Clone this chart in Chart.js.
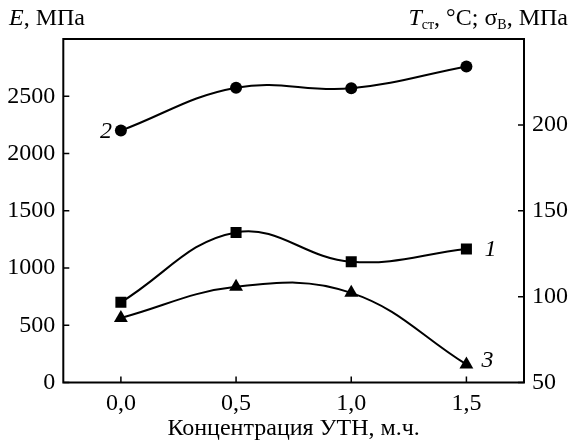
<!DOCTYPE html>
<html><head><meta charset="utf-8">
<script src="https://cdn.jsdelivr.net/npm/chart.js@4/dist/chart.umd.min.js"></script>
<style>
html,body{margin:0;padding:0;background:#fff;}
#wrap{position:relative;width:573px;height:443px;}
canvas{position:absolute;left:0;top:0;}
.t{position:absolute;font-family:"Liberation Serif","Times New Roman",serif;font-size:24px;color:#000;white-space:nowrap;line-height:1;}
.t sub{font-size:14px;vertical-align:-4px;line-height:0;}
</style></head><body>
<div id="wrap">
<canvas id="c" width="573" height="443"></canvas>
<div class="t" style="left:9px;top:5px;"><i>E</i>, МПа</div>
<div class="t" style="right:5px;top:5px;"><i>T</i><sub>ст</sub>, °C; σ<sub>В</sub>, МПа</div>
</div>
<script>
const concentrations = [0.0, 0.5, 1.0, 1.5];
const modulusE = [2200, 2575, 2570, 2760];        // curve 2, left axis
const glassTemp = [96.7, 137.4, 120.3, 127.7];    // curve 1, right axis
const strength = [87.6, 105.7, 102.2, 60.5];      // curve 3, right axis
const xTicks = [0, 0.5, 1.0, 1.5];
const leftTicks = [0, 500, 1000, 1500, 2000, 2500];
const rightTicks = [50, 100, 150, 200];
const curveNames = ['2', '1', '3'];
const xTitle = 'Концентрация УТН, м.ч.';

const FONT = {family: '"Liberation Serif","Times New Roman",serif', size: 24};
const pts = arr => concentrations.map((x, i) => ({x, y: arr[i]}));

const framePlugin = {
  id: 'frame',
  afterDraw(chart) {
    const {ctx, chartArea: a, scales} = chart;
    ctx.save();
    ctx.strokeStyle = '#000';
    ctx.lineWidth = 2;
    ctx.strokeRect(a.left, a.top, a.right - a.left, a.bottom - a.top);
    ctx.lineWidth = 1.5;
    ctx.beginPath();
    xTicks.forEach(v => { const p = scales.x.getPixelForValue(v); ctx.moveTo(p, a.bottom); ctx.lineTo(p, a.bottom - 6); });
    leftTicks.forEach(v => { const p = scales.yL.getPixelForValue(v); ctx.moveTo(a.left, p); ctx.lineTo(a.left + 6, p); });
    rightTicks.forEach(v => { const p = scales.yR.getPixelForValue(v); ctx.moveTo(a.right, p); ctx.lineTo(a.right - 6, p); });
    ctx.stroke();
    // curve labels
    ctx.fillStyle = '#000';
    ctx.font = 'italic 24px "Liberation Serif","Times New Roman",serif';
    ctx.textBaseline = 'middle';
    const m2 = chart.getDatasetMeta(0).data[0];
    ctx.textAlign = 'right';
    ctx.fillText(curveNames[0], m2.x - 9, m2.y + 1);
    ctx.textAlign = 'left';
    const m1 = chart.getDatasetMeta(1).data[3];
    ctx.fillText(curveNames[1], m1.x + 18, m1.y + 1);
    const m3 = chart.getDatasetMeta(2).data[3];
    ctx.fillText(curveNames[2], m3.x + 15, m3.y - 4);
    ctx.restore();
  }
};

const common = {borderColor: '#000', backgroundColor: '#000', borderWidth: 2, tension: 0.4, pointBorderWidth: 0};

new Chart(document.getElementById('c'), {
  type: 'line',
  data: {
    datasets: [
      Object.assign({label: curveNames[0], data: pts(modulusE), yAxisID: 'yL', pointStyle: 'circle', pointRadius: 6}, common),
      Object.assign({label: curveNames[1], data: pts(glassTemp), yAxisID: 'yR', pointStyle: 'rect', pointRadius: 7.8}, common),
      Object.assign({label: curveNames[2], data: pts(strength), yAxisID: 'yR', pointStyle: 'triangle', pointRadius: 8}, common)
    ]
  },
  options: {
    responsive: false,
    animation: false,
    events: [],
    layout: {padding: {top: 39, left: 0, right: 0, bottom: 0}},
    plugins: {legend: {display: false}, tooltip: {enabled: false}},
    scales: {
      x: {
        type: 'linear', min: -0.25, max: 1.75,
        afterBuildTicks: s => { s.ticks = xTicks.map(v => ({value: v})); },
        afterFit: s => { s.height = 60.5; },
        grid: {display: false, drawTicks: false},
        border: {display: false},
        ticks: {font: FONT, color: '#000', padding: 7, callback: v => v.toFixed(1).replace('.', ',')},
        title: {display: true, text: xTitle, font: FONT, color: '#000', padding: {top: 0, bottom: 0}}
      },
      yL: {
        position: 'left', min: 0, max: 3000,
        afterBuildTicks: s => { s.ticks = leftTicks.map(v => ({value: v})); },
        afterFit: s => { s.width = 63.3; },
        grid: {display: false, drawTicks: false},
        border: {display: false},
        ticks: {font: FONT, color: '#000', padding: 8, callback: v => String(v)}
      },
      yR: {
        position: 'right', min: 50, max: 250,
        afterBuildTicks: s => { s.ticks = rightTicks.map(v => ({value: v})); },
        afterFit: s => { s.width = 49; },
        grid: {display: false, drawTicks: false},
        border: {display: false},
        ticks: {font: FONT, color: '#000', padding: 8, callback: v => String(v)}
      }
    }
  },
  plugins: [framePlugin]
});
</script>
</body></html>
